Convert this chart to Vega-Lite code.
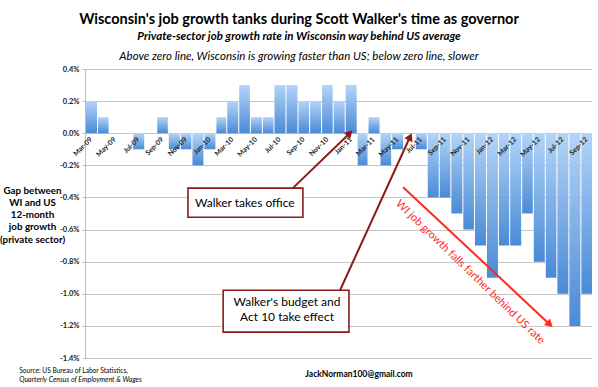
{
  "$schema": "https://vega.github.io/schema/vega-lite/v6.json",
  "width": 507,
  "height": 289,
  "autosize": {"type": "none"},
  "padding": {"left": 85, "top": 69, "right": 6, "bottom": 29},
  "background": "white",
  "title": {
    "text": "Wisconsin's job growth tanks during Scott Walker's time as governor",
    "subtitle": "Private-sector job growth rate in Wisconsin way behind US average",
    "anchor": "middle",
    "dx": -39.5,
    "offset": 8,
    "font": "Lato",
    "fontSize": 14.5,
    "fontWeight": "bold",
    "color": "#000000",
    "subtitleFont": "Lato",
    "subtitleFontSize": 11.5,
    "subtitleFontStyle": "italic",
    "subtitleFontWeight": "bold",
    "subtitleColor": "#000000",
    "subtitlePadding": 3
  },
  "datasets": {
    "jobs": [
      {"date": "2009-03-01", "value": 0.2},
      {"date": "2009-04-01", "value": 0.1},
      {"date": "2009-05-01", "value": 0.0},
      {"date": "2009-06-01", "value": 0.0},
      {"date": "2009-07-01", "value": -0.1},
      {"date": "2009-08-01", "value": 0.0},
      {"date": "2009-09-01", "value": 0.1},
      {"date": "2009-10-01", "value": -0.1},
      {"date": "2009-11-01", "value": -0.1},
      {"date": "2009-12-01", "value": -0.2},
      {"date": "2010-01-01", "value": -0.1},
      {"date": "2010-02-01", "value": 0.1},
      {"date": "2010-03-01", "value": 0.2},
      {"date": "2010-04-01", "value": 0.3},
      {"date": "2010-05-01", "value": 0.1},
      {"date": "2010-06-01", "value": 0.1},
      {"date": "2010-07-01", "value": 0.3},
      {"date": "2010-08-01", "value": 0.3},
      {"date": "2010-09-01", "value": 0.2},
      {"date": "2010-10-01", "value": 0.2},
      {"date": "2010-11-01", "value": 0.3},
      {"date": "2010-12-01", "value": 0.2},
      {"date": "2011-01-01", "value": 0.3},
      {"date": "2011-02-01", "value": -0.2},
      {"date": "2011-03-01", "value": 0.1},
      {"date": "2011-04-01", "value": -0.2},
      {"date": "2011-05-01", "value": -0.1},
      {"date": "2011-06-01", "value": 0.0},
      {"date": "2011-07-01", "value": -0.1},
      {"date": "2011-08-01", "value": -0.4},
      {"date": "2011-09-01", "value": -0.4},
      {"date": "2011-10-01", "value": -0.5},
      {"date": "2011-11-01", "value": -0.6},
      {"date": "2011-12-01", "value": -0.7},
      {"date": "2012-01-01", "value": -0.9},
      {"date": "2012-02-01", "value": -0.7},
      {"date": "2012-03-01", "value": -0.7},
      {"date": "2012-04-01", "value": -0.5},
      {"date": "2012-05-01", "value": -0.8},
      {"date": "2012-06-01", "value": -0.9},
      {"date": "2012-07-01", "value": -1.0},
      {"date": "2012-08-01", "value": -1.2},
      {"date": "2012-09-01", "value": -1.0}
    ],
    "boxes": [
      {"date": "2009-11-22", "date2": "2010-09-15", "value": -0.342, "value2": -0.523},
      {"date": "2010-02-21", "date2": "2011-01-12", "value": -0.978, "value2": -1.239}
    ],
    "boxText": [
      {"label": "Walker takes office", "date": "2010-04-18", "value": -0.436},
      {"label": "Walker's budget and", "date": "2010-08-05", "value": -1.052},
      {"label": "Act 10 take effect", "date": "2010-08-05", "value": -1.146}
    ],
    "darkArrows": [
      {"date": "2011-01-14", "value": 0.0, "date2": "2010-08-20", "value2": -0.342, "angle": 45},
      {"date": "2011-06-19", "value": -0.022, "date2": "2010-12-20", "value2": -0.978, "angle": 25}
    ],
    "redArrow": [
      {"date": "2012-06-14", "value": -1.191, "date2": "2011-06-01", "value2": -0.336, "angle": 133}
    ],
    "redText": [
      {"label": "WI job growth falls farther behind US rate", "date": "2011-11-21", "value": -0.866}
    ],
    "note": [
      {"label": "Above zero line, Wisconsin is growing faster than US; below zero line, slower", "date": "2010-09-05", "value": 0.473}
    ],
    "source": [
      {"label": "Source: US Bureau of Labor Statistics,", "date": "2008-09-12", "value": -1.48}
    ],
    "sourceItalic": [
      {"label": "Quarterly Census of Employment & Wages", "date": "2008-09-12", "value": -1.535}
    ],
    "credit": [
      {"label": "JackNorman100@gmail.com", "date": "2011-02-07", "value": -1.5}
    ]
  },
  "encoding": {
    "x": {
      "field": "date",
      "type": "temporal",
      "title": null,
      "scale": {
        "type": "utc",
        "domain": [
          {"year": 2009, "month": 3, "date": 1, "utc": true},
          {"year": 2012, "month": 10, "date": 1, "utc": true}
        ],
        "nice": false,
        "padding": 0
      },
      "axis": {
        "orient": "bottom",
        "offset": -225,
        "zindex": 1,
        "domain": false,
        "ticks": false,
        "grid": false,
        "labelAngle": -45,
        "labelAlign": "right",
        "labelBaseline": "middle",
        "labelPadding": 5,
        "labelFont": "Lato",
        "labelFontSize": 7,
        "labelFontWeight": "bold",
        "labelColor": "#222222",
        "labelOverlap": false,
        "labelExpr": "utcFormat(datum.value, '%b-%y')",
        "values": [
          {"year": 2009, "month": 3, "date": 16, "utc": true},
          {"year": 2009, "month": 5, "date": 16, "utc": true},
          {"year": 2009, "month": 7, "date": 16, "utc": true},
          {"year": 2009, "month": 9, "date": 16, "utc": true},
          {"year": 2009, "month": 11, "date": 16, "utc": true},
          {"year": 2010, "month": 1, "date": 16, "utc": true},
          {"year": 2010, "month": 3, "date": 16, "utc": true},
          {"year": 2010, "month": 5, "date": 16, "utc": true},
          {"year": 2010, "month": 7, "date": 16, "utc": true},
          {"year": 2010, "month": 9, "date": 16, "utc": true},
          {"year": 2010, "month": 11, "date": 16, "utc": true},
          {"year": 2011, "month": 1, "date": 16, "utc": true},
          {"year": 2011, "month": 3, "date": 16, "utc": true},
          {"year": 2011, "month": 5, "date": 16, "utc": true},
          {"year": 2011, "month": 7, "date": 16, "utc": true},
          {"year": 2011, "month": 9, "date": 16, "utc": true},
          {"year": 2011, "month": 11, "date": 16, "utc": true},
          {"year": 2012, "month": 1, "date": 16, "utc": true},
          {"year": 2012, "month": 3, "date": 16, "utc": true},
          {"year": 2012, "month": 5, "date": 16, "utc": true},
          {"year": 2012, "month": 7, "date": 16, "utc": true},
          {"year": 2012, "month": 9, "date": 16, "utc": true}
        ]
      }
    },
    "y": {
      "field": "value",
      "type": "quantitative",
      "title": ["Gap between", "WI and US", "12-month", "job growth", "(private sector)"],
      "scale": {"domain": [-1.4, 0.4], "nice": false, "zero": false},
      "axis": {
        "values": [-1.4, -1.2, -1.0, -0.8, -0.6, -0.4, -0.2, 0.0, 0.2, 0.4],
        "labelExpr": "(datum.value < 0 ? '-' : '') + format(abs(datum.value), '.1f') + '%'",
        "labelOverlap": false,
        "labelFont": "Lato",
        "labelFontSize": 7.5,
        "labelFontWeight": "bold",
        "labelColor": "#222222",
        "labelPadding": 3,
        "tickSize": 3,
        "tickColor": "#bdbdbd",
        "domainColor": "#bdbdbd",
        "gridColor": "#c6c6c6",
        "grid": true,
        "titleAngle": 0,
        "titleAlign": "center",
        "titleBaseline": "middle",
        "titleX": -53,
        "titleY": 121,
        "titleFont": "Lato",
        "titleFontSize": 9.8,
        "titleFontWeight": "bold",
        "titleColor": "#000000",
        "titleLineHeight": 12.3
      }
    }
  },
  "layer": [
    {
      "data": {"name": "jobs"},
      "mark": {
        "type": "bar",
        "timeUnitBandSize": 0.85,
        "timeUnitBandPosition": 0.075,
        "color": {
          "gradient": "linear",
          "x1": 0, "y1": 0, "x2": 0, "y2": 1,
          "stops": [
            {"offset": 0, "color": "#b3d4f8"},
            {"offset": 1, "color": "#4a8ad5"}
          ]
        }
      },
      "encoding": {
        "x": {
          "field": "date",
          "type": "temporal",
          "timeUnit": "utcyearmonth",
          "title": null,
          "scale": {
            "type": "utc",
            "domain": [
              {"year": 2009, "month": 3, "date": 1, "utc": true},
              {"year": 2012, "month": 10, "date": 1, "utc": true}
            ],
            "nice": false,
            "padding": 0
          },
          "axis": {
            "orient": "bottom",
            "offset": -225,
            "zindex": 1,
            "domain": false,
            "ticks": false,
            "grid": false,
            "labelAngle": -45,
            "labelAlign": "right",
            "labelBaseline": "middle",
            "labelPadding": 5,
            "labelFont": "Lato",
            "labelFontSize": 7,
            "labelFontWeight": "bold",
            "labelColor": "#222222",
            "labelOverlap": false,
            "labelExpr": "utcFormat(datum.value, '%b-%y')",
            "values": [
              {"year": 2009, "month": 3, "date": 16, "utc": true},
              {"year": 2009, "month": 5, "date": 16, "utc": true},
              {"year": 2009, "month": 7, "date": 16, "utc": true},
              {"year": 2009, "month": 9, "date": 16, "utc": true},
              {"year": 2009, "month": 11, "date": 16, "utc": true},
              {"year": 2010, "month": 1, "date": 16, "utc": true},
              {"year": 2010, "month": 3, "date": 16, "utc": true},
              {"year": 2010, "month": 5, "date": 16, "utc": true},
              {"year": 2010, "month": 7, "date": 16, "utc": true},
              {"year": 2010, "month": 9, "date": 16, "utc": true},
              {"year": 2010, "month": 11, "date": 16, "utc": true},
              {"year": 2011, "month": 1, "date": 16, "utc": true},
              {"year": 2011, "month": 3, "date": 16, "utc": true},
              {"year": 2011, "month": 5, "date": 16, "utc": true},
              {"year": 2011, "month": 7, "date": 16, "utc": true},
              {"year": 2011, "month": 9, "date": 16, "utc": true},
              {"year": 2011, "month": 11, "date": 16, "utc": true},
              {"year": 2012, "month": 1, "date": 16, "utc": true},
              {"year": 2012, "month": 3, "date": 16, "utc": true},
              {"year": 2012, "month": 5, "date": 16, "utc": true},
              {"year": 2012, "month": 7, "date": 16, "utc": true},
              {"year": 2012, "month": 9, "date": 16, "utc": true}
            ]
          }
        }
      }
    },
    {
      "data": {"name": "boxes"},
      "mark": {"type": "rect", "fill": "white", "stroke": "#8b1a1a", "strokeWidth": 1.6},
      "encoding": {
        "x2": {"field": "date2"},
        "y2": {"field": "value2"}
      }
    },
    {
      "data": {"name": "boxText"},
      "mark": {"type": "text", "font": "Lato", "fontSize": 12, "color": "#000000", "align": "center", "baseline": "middle"},
      "encoding": {
        "text": {"field": "label"}
      }
    },
    {
      "data": {"name": "darkArrows"},
      "mark": {"type": "rule", "color": "#8b1a1a", "strokeWidth": 2},
      "encoding": {
        "x2": {"field": "date2"},
        "y2": {"field": "value2"}
      }
    },
    {
      "data": {"name": "darkArrows"},
      "mark": {"type": "point", "shape": "triangle-up", "filled": true, "size": 80, "color": "#8b1a1a", "opacity": 1},
      "encoding": {
        "angle": {"field": "angle", "type": "quantitative", "scale": null}
      }
    },
    {
      "data": {"name": "redArrow"},
      "mark": {"type": "rule", "color": "#ff2a1a", "strokeWidth": 2},
      "encoding": {
        "x2": {"field": "date2"},
        "y2": {"field": "value2"}
      }
    },
    {
      "data": {"name": "redArrow"},
      "mark": {"type": "point", "shape": "triangle-up", "filled": true, "size": 80, "color": "#ff2a1a", "opacity": 1},
      "encoding": {
        "angle": {"field": "angle", "type": "quantitative", "scale": null}
      }
    },
    {
      "data": {"name": "redText"},
      "mark": {"type": "text", "font": "Lato", "fontSize": 11, "color": "#ff2a1a", "align": "center", "baseline": "middle", "angle": 44},
      "encoding": {
        "text": {"field": "label"}
      }
    },
    {
      "data": {"name": "note"},
      "mark": {"type": "text", "font": "Lato", "fontSize": 11.5, "fontStyle": "italic", "color": "#000000", "align": "center", "baseline": "middle"},
      "encoding": {
        "text": {"field": "label"}
      }
    },
    {
      "data": {"name": "source"},
      "mark": {"type": "text", "font": "Lato", "fontSize": 6.6, "color": "#000000", "align": "left", "baseline": "middle"},
      "encoding": {
        "text": {"field": "label"}
      }
    },
    {
      "data": {"name": "sourceItalic"},
      "mark": {"type": "text", "font": "Lato", "fontSize": 7, "fontStyle": "italic", "color": "#000000", "align": "left", "baseline": "middle"},
      "encoding": {
        "text": {"field": "label"}
      }
    },
    {
      "data": {"name": "credit"},
      "mark": {"type": "text", "font": "Lato", "fontSize": 8.5, "fontWeight": "bold", "color": "#000000", "align": "center", "baseline": "middle"},
      "encoding": {
        "text": {"field": "label"}
      }
    }
  ],
  "config": {
    "view": {"stroke": null},
    "font": "Lato"
  }
}
